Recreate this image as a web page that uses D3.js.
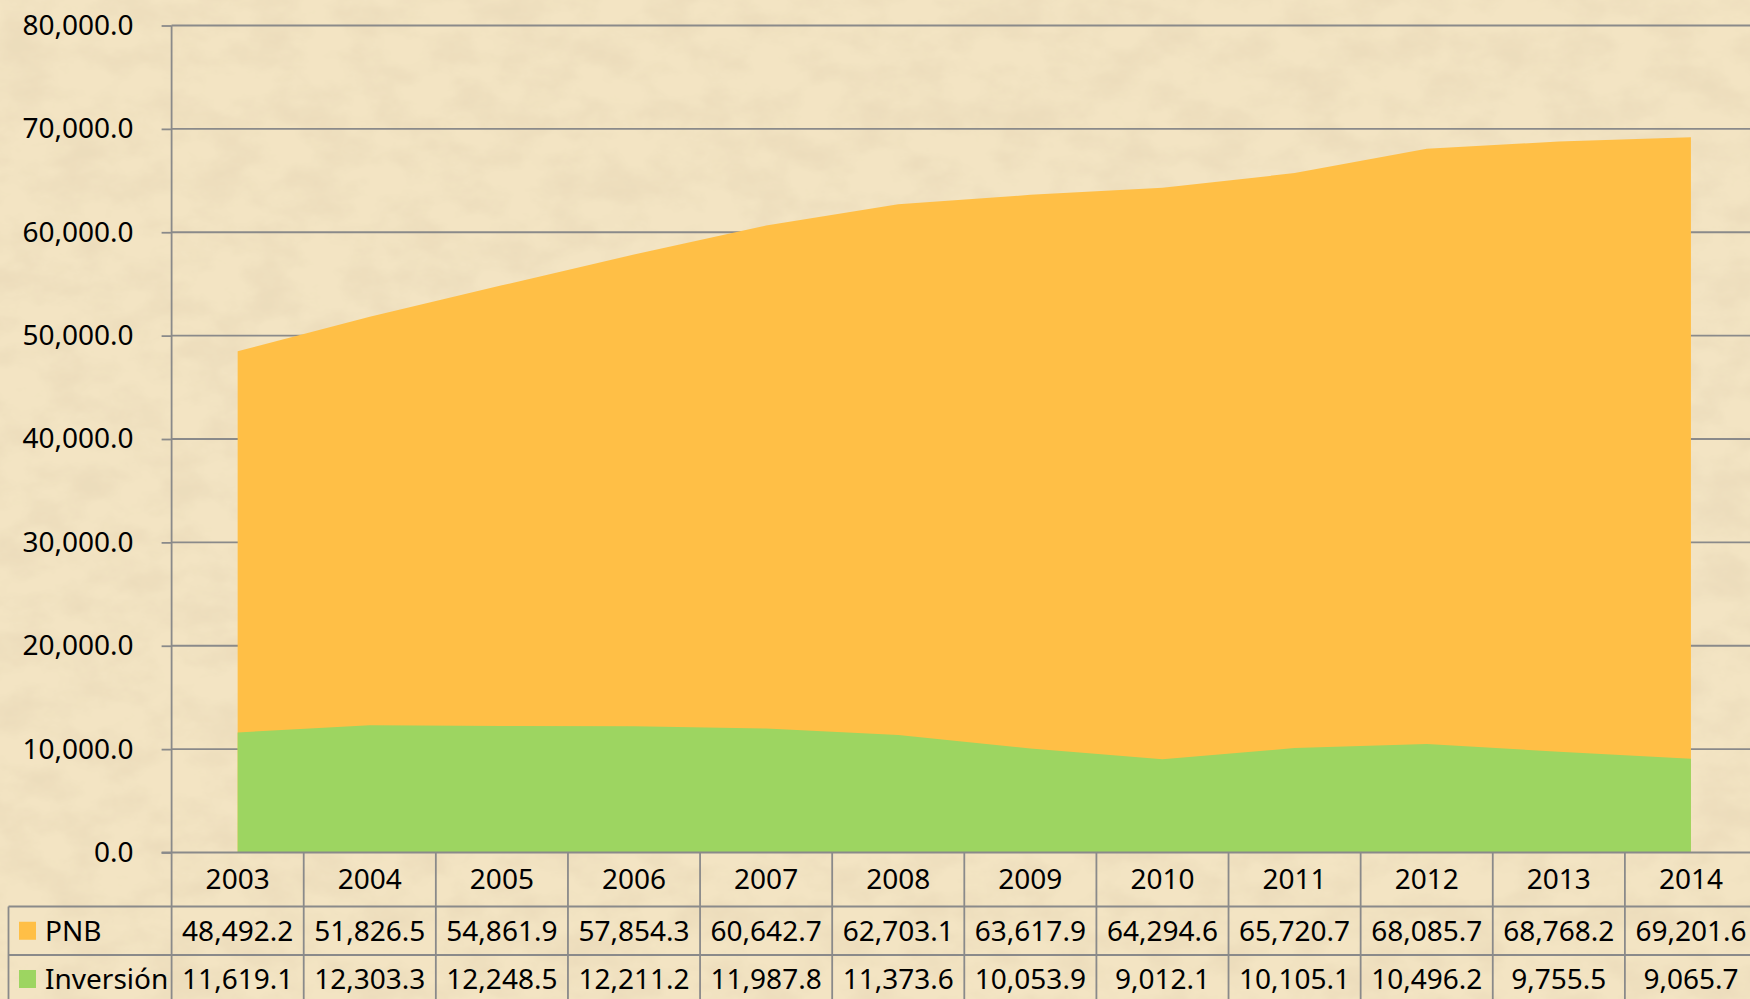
<!DOCTYPE html>
<html>
<head>
<meta charset="utf-8">
<script src="https://cdn.jsdelivr.net/npm/d3@7"></script>
<style>
  html, body { margin: 0; padding: 0; overflow: hidden; background: #efdfbc; }
  #chart svg { display: block; }
</style>
</head>
<body>
<div id="chart"></div>
<script>
const WIDTH = 1750;
const HEIGHT = 999;

// Data.
const years = ["2003", "2004", "2005", "2006", "2007", "2008", "2009", "2010", "2011", "2012", "2013", "2014"];
const pnb = [48492.2, 51826.5, 54861.9, 57854.3, 60642.7, 62703.1, 63617.9, 64294.6, 65720.7, 68085.7, 68768.2, 69201.6];
const inversion = [11619.1, 12303.3, 12248.5, 12211.2, 11987.8, 11373.6, 10053.9, 9012.1, 10105.1, 10496.2, 9755.5, 9065.7];
const seriesNames = ["PNB", "Inversión"];
const seriesColors = ["#ffbf46", "#9dd561"];
const yTicks = [0, 10000, 20000, 30000, 40000, 50000, 60000, 70000, 80000];

// Layout.
const PLOT = {'left': 171.6, 'right': 1757, 'top': 25.5, 'bottom': 852.5};
const ROWS = [852.5, 906.5, 955, 1003];
const TABLE_LEFT = 8.5;
const FONT = "'Noto Sans', 'Open Sans', sans-serif";
const FONT_SIZE = "28px";

window.onload = function() {

    var canvas = d3.select("#chart").append("svg")
                   .attr("width", WIDTH)
                   .attr("height", HEIGHT);

    // Parchment background.
    var defs = canvas.append("defs");
    var filter = defs.append("filter").attr("id", "paper")
                     .attr("x", 0).attr("y", 0).attr("width", "100%").attr("height", "100%");
    filter.append("feTurbulence")
          .attr("type", "fractalNoise")
          .attr("baseFrequency", "0.02 0.03")
          .attr("numOctaves", 5)
          .attr("seed", 11)
          .attr("result", "noise");
    filter.append("feColorMatrix")
          .attr("in", "noise")
          .attr("type", "matrix")
          .attr("values", "0 0 0 0 0.84  0 0 0 0 0.72  0 0 0 0 0.50  0 0 0 -2.2 1.4")
          .attr("result", "spots");
    filter.append("feComposite").attr("in", "spots").attr("in2", "SourceGraphic").attr("operator", "atop");

    canvas.append("rect")
          .attr("width", WIDTH).attr("height", HEIGHT)
          .attr("fill", "#f3e4c3")
          .attr("filter", "url(#paper)");

    var x = d3.scaleBand().domain(years).range([PLOT.left, PLOT.right]).padding(0);
    var y = d3.scaleLinear().domain([0, 80000]).range([PLOT.bottom, PLOT.top]);
    var cx = function(d, i) { return x(years[i]) + x.bandwidth() / 2; };

    // Gridlines.
    canvas.append("g").selectAll("line")
          .data(yTicks.slice(1))
          .enter().append("line")
          .attr("x1", PLOT.left).attr("x2", WIDTH)
          .attr("y1", function(d) { return y(d); })
          .attr("y2", function(d) { return y(d); })
          .attr("stroke", "#8a8a8a")
          .attr("stroke-width", 1.8);

    // Areas (overlapping, not stacked).
    [pnb, inversion].forEach(function(values, k) {
        var area = d3.area()
                     .x(cx)
                     .y0(y(0))
                     .y1(function(d) { return y(d); });
        canvas.append("path")
              .datum(values)
              .attr("d", area)
              .attr("fill", seriesColors[k]);
    });

    // Y axis.
    var yAxis = d3.axisLeft(y)
                  .tickValues(yTicks)
                  .tickSize(10)
                  .tickPadding(28)
                  .tickFormat(d3.format(",.1f"));
    var gy = canvas.append("g")
                   .attr("transform", "translate(" + PLOT.left + ",0)")
                   .call(yAxis);
    gy.select(".domain").remove();
    gy.selectAll(".tick line").attr("stroke", "#8a8a8a").attr("stroke-width", 1.8);
    gy.selectAll(".tick text")
      .attr("font-family", FONT)
      .attr("font-size", FONT_SIZE)
      .attr("fill", "#000");
    canvas.append("line")
          .attr("x1", PLOT.left).attr("x2", PLOT.left)
          .attr("y1", PLOT.top).attr("y2", HEIGHT)
          .attr("stroke", "#8a8a8a").attr("stroke-width", 1.8);

    // Data table.
    var table = canvas.append("g");
    table.append("line")
         .attr("x1", PLOT.left - 10).attr("x2", WIDTH)
         .attr("y1", ROWS[0]).attr("y2", ROWS[0])
         .attr("stroke", "#8a8a8a").attr("stroke-width", 1.8);
    table.selectAll("line.row")
         .data([ROWS[1], ROWS[2]])
         .enter().append("line")
         .attr("x1", TABLE_LEFT).attr("x2", WIDTH)
         .attr("y1", function(d) { return d; })
         .attr("y2", function(d) { return d; })
         .attr("stroke", "#8a8a8a").attr("stroke-width", 1.8);
    table.selectAll("line.col")
         .data(years.slice(1))
         .enter().append("line")
         .attr("x1", function(d) { return x(d); })
         .attr("x2", function(d) { return x(d); })
         .attr("y1", ROWS[0]).attr("y2", HEIGHT)
         .attr("stroke", "#8a8a8a").attr("stroke-width", 1.8);
    table.append("line")
         .attr("x1", TABLE_LEFT).attr("x2", TABLE_LEFT)
         .attr("y1", ROWS[1]).attr("y2", HEIGHT)
         .attr("stroke", "#8a8a8a").attr("stroke-width", 1.8);

    table.selectAll("text.year")
         .data(years)
         .enter().append("text")
         .attr("x", function(d) { return x(d) + x.bandwidth() / 2; })
         .attr("y", (ROWS[0] + ROWS[1]) / 2)
         .attr("dy", "0.35em")
         .attr("text-anchor", "middle")
         .attr("font-family", FONT)
         .attr("font-size", FONT_SIZE)
         .text(function(d) { return d; });

    var fmt = d3.format(",.1f");
    [pnb, inversion].forEach(function(values, k) {
        var rowMid = (ROWS[k + 1] + ROWS[k + 2]) / 2;
        table.append("rect")
             .attr("x", 19).attr("y", rowMid - 9)
             .attr("width", 17).attr("height", 18)
             .attr("fill", seriesColors[k]);
        table.append("text")
             .attr("x", 45)
             .attr("y", rowMid)
             .attr("dy", "0.35em")
             .attr("font-family", FONT)
             .attr("font-size", FONT_SIZE)
             .text(seriesNames[k]);
        table.selectAll("text.v" + k)
             .data(values)
             .enter().append("text")
             .attr("x", cx)
             .attr("y", rowMid)
             .attr("dy", "0.35em")
             .attr("text-anchor", "middle")
             .attr("font-family", FONT)
             .attr("font-size", FONT_SIZE)
             .text(function(d) { return fmt(d); });
    });
};
</script>
</body>
</html>
